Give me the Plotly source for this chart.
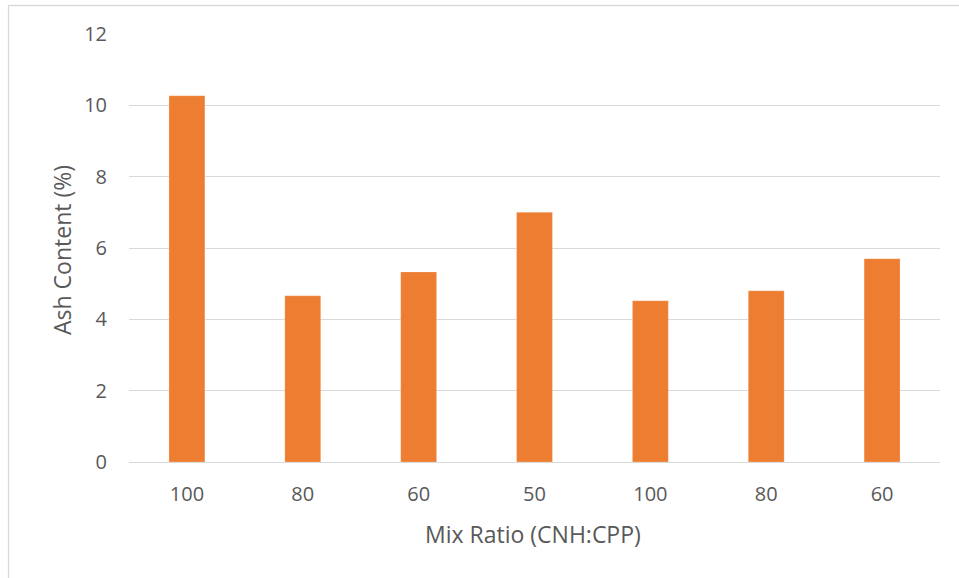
import plotly.graph_objects as go

# Ash content for each CNH:CPP blend
mix_labels = ["100", "80", "60", "50", "100", "80", "60"]
ash_content = [10.27, 4.66, 5.33, 7.0, 4.52, 4.80, 5.70]

W, H = 959, 578
L, R, T, B = 129, 19, 34, 116
plot_w = W - L - R
plot_h = H - T - B

positions = list(range(len(mix_labels)))

fig = go.Figure(
    go.Bar(
        x=positions,
        y=ash_content,
        width=0.31,
        marker=dict(color="#ED7D31", line=dict(color="rgba(255,255,255,0.4)", width=0.6)),
    )
)

font = "Open Sans, Liberation Sans, sans-serif"
txt = "#595959"

fig.update_layout(
    width=W,
    height=H,
    margin=dict(l=L, r=R, t=T, b=B),
    paper_bgcolor="white",
    plot_bgcolor="white",
    showlegend=False,
    font=dict(family=font, size=20, color=txt),
    xaxis=dict(
        tickmode="array",
        tickvals=positions,
        ticktext=mix_labels,
        range=[-0.5, len(mix_labels) - 0.5],
        showgrid=False,
        showline=False,
        zeroline=False,
        ticks="",
        ticklabelstandoff=18,
        tickfont=dict(size=20, color=txt),
    ),
    yaxis=dict(
        range=[0, 12],
        dtick=2,
        showgrid=True,
        gridcolor="#D9D9D9",
        gridwidth=1,
        zeroline=True,
        zerolinecolor="#D9D9D9",
        zerolinewidth=1,
        showline=False,
        ticks="",
        ticklabelstandoff=21,
        tickfont=dict(size=20, color=txt),
    ),
    annotations=[
        dict(
            text="Ash Content (%)",
            xref="paper", yref="paper",
            x=(62 - L) / plot_w, y=(H - B - 250) / plot_h,
            xanchor="center", yanchor="middle",
            textangle=-90, showarrow=False,
            font=dict(family=font, size=23, color=txt),
        ),
        dict(
            text="Mix Ratio (CNH:CPP)",
            xref="paper", yref="paper",
            x=(533 - L) / plot_w, y=(H - B - 534) / plot_h,
            xanchor="center", yanchor="middle",
            showarrow=False,
            font=dict(family=font, size=23, color=txt),
        ),
    ],
    shapes=[
        # chart frame (top and left edges visible)
        dict(
            type="rect", xref="paper", yref="paper", layer="below",
            x0=(8.5 - L) / plot_w, x1=(W + 20 - L) / plot_w,
            y0=(H - B - (H + 20)) / plot_h, y1=(H - B - 5.5) / plot_h,
            line=dict(color="#D9D9D9", width=1.3), fillcolor="rgba(0,0,0,0)",
        )
    ],
)

fig.write_html("out.html")
